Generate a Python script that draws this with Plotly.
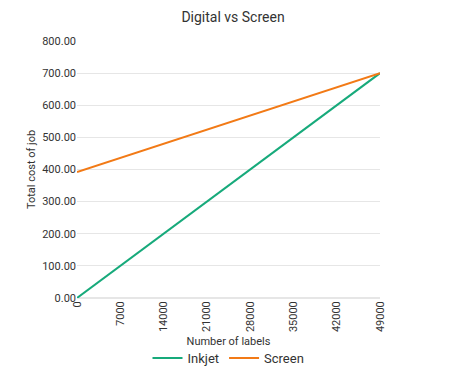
import plotly.graph_objects as go

labels = [0, 7000, 14000, 21000, 28000, 35000, 42000, 49000]
inkjet = [0, 100, 200, 300, 400, 500, 600, 700]
screen = [392, 436, 480, 524, 568, 612, 656, 700]
y_ticks = [0, 100, 200, 300, 400, 500, 600, 700, 800]

font = "Roboto, 'DejaVu Sans', sans-serif"

fig = go.Figure()
fig.add_trace(go.Scatter(x=labels, y=inkjet, mode="lines", name="Inkjet",
                         line=dict(color="#17AA7B", width=2)))
fig.add_trace(go.Scatter(x=labels, y=screen, mode="lines", name="Screen",
                         line=dict(color="#F27A16", width=2)))

fig.update_layout(
    width=450, height=385,
    margin=dict(l=69, r=78, t=33, b=95, autoexpand=False),
    paper_bgcolor="white", plot_bgcolor="white",
    font=dict(family=font, color="#333", size=11),
    title=dict(text="Digital vs Screen", x=0.5, xanchor="center", y=0.977, yanchor="middle",
               font=dict(size=14, color="#333", family=font)),
    xaxis=dict(range=[0, 49000], tickvals=labels, ticktext=[str(v) for v in labels],
               tickangle=-90, showgrid=False, zeroline=False, showline=False, automargin=False,
               title=dict(text="Number of labels", font=dict(size=11), standoff=6),
               ticks="", tickfont=dict(size=11)),
    yaxis=dict(range=[0, 800], tickvals=y_ticks, ticktext=[f"{v:.2f}" for v in y_ticks],
               showgrid=True, gridcolor="#e6e6e6", zeroline=True, zerolinecolor="#e6e6e6",
               showline=False, ticks="", automargin=False,
               title=dict(text="Total cost of job", font=dict(size=11), standoff=4),
               tickfont=dict(size=11)),
    legend=dict(orientation="h", x=0.5, xanchor="center", y=-0.175, yanchor="top",
                font=dict(size=13), itemwidth=30),
    showlegend=True,
)

fig.write_html("out.html")
